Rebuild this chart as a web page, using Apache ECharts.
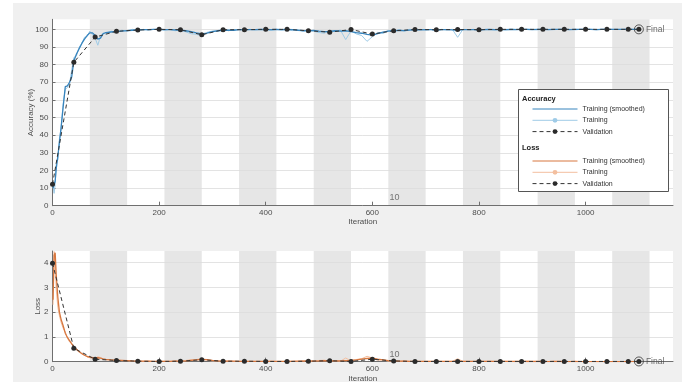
<!DOCTYPE html>
<html><head><meta charset="utf-8">
<script src="https://cdn.jsdelivr.net/npm/echarts@6.0.0/dist/echarts.min.js"></script>
<style>html,body{margin:0;padding:0;background:#fff}#c{width:688px;height:385px}</style>
</head><body><div id="c"></div>
<script>
// ---------- data ----------
const iterations = [1,3,5,7,10,13,16,20,24,28,32,36,40,45,50,55,60,65,70,75,80,85,90,95,100,
  110,120,130,140,150,160,170,180,190,200,
  210,220,230,240,250,260,270,280,290,300,
  310,320,330,340,350,360,370,380,390,400,
  410,420,430,440,450,460,470,480,490,500,
  510,520,530,540,550,560,570,580,590,600,
  610,620,630,640,650,660,670,680,690,700,
  710,720,730,740,750,760,770,780,790,800,
  810,820,830,840,850,860,870,880,890,900,
  910,920,930,940,950,960,970,980,990,1000,
  1010,1020,1030,1040,1050,1060,1070,1080,1090,1100];

const accSmoothed = [10,9,14,21,28,36,44,56,67.5,68,70,73,82,86,89,92,94.5,96.5,98,98,96.5,94.5,95,97.5,98.2,
  98.5,98.8,99.0,99.3,99.5,99.7,99.8,99.9,100,100,
  99.9,99.8,99.7,99.5,99.2,98.7,98.0,97.4,97.9,98.7,
  99.2,99.5,99.6,99.5,99.8,99.9,99.8,99.9,100,99.9,
  99.8,100,99.9,100,99.8,99.5,99.3,99.1,99.4,99.0,
  98.7,98.8,99.2,99.0,99.2,98.7,98.2,97.8,97.2,96.7,
  97.6,98.4,99.0,99.2,99.4,99.3,99.6,99.8,99.7,99.9,
  99.8,99.6,99.8,99.9,99.7,99.5,99.8,99.9,99.8,99.7,
  99.9,100,99.9,99.8,99.9,100,99.9,100,100,99.9,
  100,100,99.9,100,100,100,99.9,100,100,100,
  100,99.9,100,100,100,100,100,100,100,100];

const accTraining = [11,7,12,24,26,38,43,58,66,67,69,77,84,85,90,92,95.5,96,99,97,95,91,96,98,97.5,
  99,98.2,99.5,99,100,99.4,100,99.6,100,100,
  99.5,100,99.2,99.8,98.6,97.5,97.2,96.2,98.3,99,
  98.9,100,99.2,99.7,100,99.5,100,99.7,100,100,
  99.4,100,99.6,100,99.3,99.8,98.8,99.5,98.9,98.2,
  97.8,99.2,98.7,99.6,94.2,99.1,97.4,96.5,93.2,95.8,
  98.3,97.6,99.4,98.8,99.8,99.0,100,99.6,100,99.5,
  100,99.2,100,99.7,100,95.5,100,99.8,100,99.4,
  100,100,99.6,100,99.7,100,100,99.8,100,100,
  99.7,100,100,99.8,100,100,100,99.7,100,100,
  100,99.8,100,100,100,99.9,100,100,100,100];

const lossSmoothed = [2.5,4.3,4.4,3.5,2.6,2.0,1.72,1.45,1.15,0.98,0.85,0.72,0.61,0.5,0.4,0.33,0.26,0.21,0.18,0.16,0.14,0.16,0.14,0.11,0.09,
  0.07,0.06,0.05,0.04,0.03,0.025,0.02,0.02,0.015,0.01,
  0.01,0.015,0.02,0.02,0.03,0.05,0.07,0.09,0.08,0.05,
  0.03,0.02,0.02,0.02,0.015,0.01,0.01,0.01,0.01,0.01,
  0.01,0.01,0.01,0.01,0.015,0.02,0.025,0.03,0.025,0.03,
  0.04,0.035,0.03,0.03,0.04,0.05,0.07,0.1,0.13,0.14,
  0.1,0.07,0.04,0.03,0.02,0.02,0.015,0.01,0.01,0.01,
  0.01,0.015,0.01,0.01,0.01,0.02,0.015,0.01,0.01,0.01,
  0.01,0.01,0.01,0.008,0.01,0.01,0.008,0.008,0.01,0.008,
  0.008,0.008,0.007,0.008,0.008,0.007,0.007,0.008,0.007,0.007,
  0.007,0.006,0.007,0.007,0.006,0.006,0.007,0.006,0.006,0.006];

const lossTraining = [2.3,4.45,4.0,2.9,2.2,1.85,1.6,1.35,1.2,0.95,0.8,0.75,0.55,0.48,0.42,0.3,0.27,0.2,0.16,0.18,0.12,0.2,0.17,0.1,0.08,
  0.06,0.08,0.04,0.05,0.02,0.03,0.01,0.02,0.01,0.01,
  0.02,0.01,0.03,0.01,0.05,0.08,0.09,0.12,0.06,0.03,
  0.04,0.01,0.03,0.01,0.01,0.02,0.01,0.01,0.01,0.01,
  0.02,0.01,0.01,0.01,0.02,0.01,0.04,0.02,0.03,0.05,
  0.06,0.03,0.04,0.02,0.15,0.03,0.09,0.12,0.22,0.15,
  0.06,0.08,0.02,0.04,0.01,0.03,0.01,0.01,0.01,0.01,
  0.01,0.02,0.01,0.01,0.01,0.12,0.01,0.01,0.01,0.02,
  0.01,0.02,0.005,0.01,0.015,0.005,0.01,0.005,0.02,0.005,
  0.01,0.005,0.005,0.015,0.005,0.01,0.005,0.005,0.01,0.005,
  0.005,0.01,0.005,0.005,0.01,0.005,0.005,0.005,0.01,0.005];

const valIterations = [0,40,80,120,160,200,240,280,320,360,400,440,480,520,560,600,640,680,720,760,800,840,880,920,960,1000,1040,1080,1100];
const accValidation = [12.1,81.3,95.6,98.9,99.6,100,99.8,96.9,99.8,99.8,100,100,99.2,98.4,99.9,97.3,99.2,99.9,99.8,99.9,99.8,100,100,100,100,100,100,100,100];
const lossValidation = [3.98,0.54,0.1,0.05,0.02,0.01,0.02,0.08,0.02,0.02,0.01,0.01,0.02,0.04,0.01,0.1,0.03,0.01,0.01,0.01,0.01,0.01,0.01,0.01,0.01,0.01,0.01,0.01,0.01];

const finalIteration = 1100;
const finalAccuracy = 100;
const finalLoss = 0.01;

const epochBands = [[70,140],[210,280],[350,420],[490,560],[630,700],[770,840],[910,980],[1050,1120]];
const epochMarkText = '10';
const epochMarkIteration = 632;

const xTicks = [0,200,400,600,800,1000];
const accTicks = [0,10,20,30,40,50,60,70,80,90,100];
const lossTicks = [0,1,2,3,4];

const legendLabels = {
  accS:'Training (smoothed)', accT:'Training', accV:'Validation',
  lossS:'Training (smoothed)', lossT:'Training', lossV:'Validation'
};

// ---------- helpers ----------
const zip = (xs, ys) => xs.map((x, i) => [x, ys[i]]);
const FONT = 'Liberation Sans, Arial, sans-serif';
const AX = '#6f6f6f', TXT = '#4d4d4d';

function xAxis(gi, gap) {
  return {
    type:'value', gridIndex:gi, min:0, max:1164, z:3,
    name:'Iteration', nameLocation:'middle', nameGap:gap, nameMoveOverlap:false,
    nameTextStyle:{color:TXT, fontSize:8, fontFamily:FONT},
    axisLine:{show:true, onZero:false, lineStyle:{color:AX, width:1}},
    axisTick:{show:true, inside:true, length:4, customValues:xTicks, lineStyle:{color:AX}},
    axisLabel:{show:true, customValues:xTicks, margin:3, color:TXT, fontSize:8, fontFamily:FONT, formatter: v => String(v)},
    splitLine:{show:false}
  };
}
function yAxis(gi, max, ticks, name, gap) {
  return {
    type:'value', gridIndex:gi, min:0, max:max, z:3,
    name:name, nameLocation:'middle', nameGap:gap, nameRotate:90, nameMoveOverlap:false,
    nameTextStyle:{color:TXT, fontSize:8, fontFamily:FONT},
    axisLine:{show:true, onZero:false, lineStyle:{color:AX, width:1}},
    axisTick:{show:true, inside:true, length:3, customValues:ticks, lineStyle:{color:AX}},
    axisLabel:{show:true, customValues:ticks, margin:4, color:TXT, fontSize:8, fontFamily:FONT, formatter: v => String(v)},
    splitLine:{show:true, lineStyle:{color:'#dcdcdc', width:0.8}}
  };
}
function bands(gi) {
  return {
    type:'line', xAxisIndex:gi, yAxisIndex:gi, data:[], silent:true, z:1,
    markArea:{silent:true, z:1, itemStyle:{color:'#e6e6e6'},
      data: epochBands.map(b => [{xAxis:b[0]}, {xAxis:b[1]}])}
  };
}
function trainLine(gi, name, vals, color, width, symbol) {
  return {
    type:'line', name:name, xAxisIndex:gi, yAxisIndex:gi, z:5,
    data: zip(iterations, vals), symbol:symbol, symbolSize:5, showSymbol:false,
    itemStyle:{color:color}, lineStyle:{color:color, width:width}, silent:true
  };
}
function valLine(gi, name, vals) {
  return {
    type:'line', name:name, xAxisIndex:gi, yAxisIndex:gi, z:6,
    data: zip(valIterations, vals), symbol:'circle', symbolSize:5, showSymbol:true,
    itemStyle:{color:'#2b2b2b'}, lineStyle:{color:'#333', width:1, type:[4,3]}, silent:true
  };
}
function finalMark(gi, y) {
  return {
    type:'scatter', xAxisIndex:gi, yAxisIndex:gi, z:7, silent:true,
    data:[[finalIteration, y]], symbol:'circle', symbolSize:9,
    itemStyle:{color:'rgba(255,255,255,0)', borderColor:'#333', borderWidth:1},
    label:{show:true, formatter:'Final', position:'right', distance:2, color:'#444', fontSize:8.5, fontFamily:FONT}
  };
}
function epochMark(gi, y) {
  return {
    type:'scatter', xAxisIndex:gi, yAxisIndex:gi, z:7, silent:true,
    data:[[epochMarkIteration, y]], symbolSize:0,
    label:{show:true, formatter:epochMarkText, position:'right', distance:0, color:'#555', fontSize:9, fontFamily:FONT}
  };
}
function legend(top, names) {
  return {
    orient:'vertical', left:532, top:top, padding:0, itemWidth:45, itemHeight:6, itemGap:4.3,
    data:[
      {name:names[0], itemStyle:{opacity:0}},
      {name:names[1]},
      {name:names[2]}
    ],
    lineStyle:{width:1},
    formatter: n => legendLabels[n], selectedMode:false, z:20,
    textStyle:{color:'#333', fontSize:7, fontFamily:FONT}
  };
}

const chart = echarts.init(document.getElementById('c'), null, {renderer:'canvas'});
chart.setOption({
  animation:false,
  backgroundColor:'#ffffff',
  textStyle:{fontFamily:FONT},
  graphic:[
    {type:'rect', z:-100, silent:true, shape:{x:13, y:3, width:669, height:379}, style:{fill:'#f0f0f0'}},
    {type:'rect', z:10, silent:true, shape:{x:518.5, y:89.5, width:150, height:102}, style:{fill:'#fff', stroke:'#555', lineWidth:1}},
    {type:'text', z:11, silent:true, left:522, top:94.5, style:{text:'Accuracy', fill:'#222', font:'bold 7.5px '+FONT}},
    {type:'text', z:11, silent:true, left:522, top:143.5, style:{text:'Loss', fill:'#222', font:'bold 7.5px '+FONT}}
  ],
  grid:[
    {left:52.5, right:15, top:19.3, height:186.4, show:true, backgroundColor:'#fff', borderWidth:0, outerBoundsMode:'none'},
    {left:52.5, right:15, top:251, height:110.7, show:true, backgroundColor:'#fff', borderWidth:0, outerBoundsMode:'none'}
  ],
  xAxis:[xAxis(0, 12), xAxis(1, 13)],
  yAxis:[yAxis(0, 105.7, accTicks, 'Accuracy (%)', 18), yAxis(1, 4.47, lossTicks, 'Loss', 11)],
  legend:[legend(105.5, ['accS','accT','accV']), legend(157.5, ['lossS','lossT','lossV'])],
  series:[
    bands(0), bands(1),
    trainLine(0, 'accT', accTraining, '#9fcbe7', 1, 'circle'),
    trainLine(0, 'accS', accSmoothed, '#3784bd', 1.3, 'none'),
    valLine(0, 'accV', accValidation),
    finalMark(0, finalAccuracy),
    epochMark(0, 4.9),
    trainLine(1, 'lossT', lossTraining, '#f3bf9f', 1, 'circle'),
    trainLine(1, 'lossS', lossSmoothed, '#d7773f', 1.3, 'none'),
    valLine(1, 'lossV', lossValidation),
    finalMark(1, finalLoss),
    epochMark(1, 0.28)
  ]
});
</script></body></html>
